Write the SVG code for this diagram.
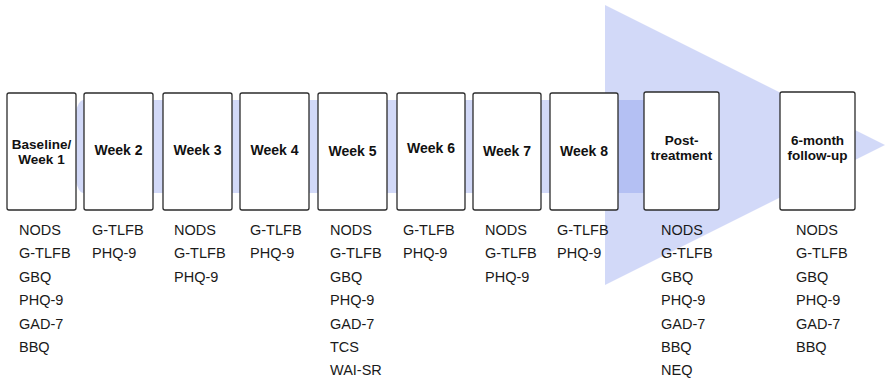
<svg xmlns="http://www.w3.org/2000/svg" width="886" height="383" viewBox="0 0 886 383">
  <style>
    .band { fill: #7d93ec; fill-opacity: 0.35; }
    .box { fill: #ffffff; stroke: #2b2b2b; stroke-width: 1.3; }
    .title { font-family: "Liberation Sans", Arial, sans-serif; font-weight: bold; font-size: 14px; fill: #111; text-anchor: middle; }
    .title2 { font-family: "Liberation Sans", Arial, sans-serif; font-weight: bold; font-size: 13.5px; fill: #111; text-anchor: middle; }
    .item { font-family: "Liberation Sans", Arial, sans-serif; font-size: 14.5px; fill: #1a1a1a; }
  </style>

  <!-- background timeline arrow: shaft plus head -->
  <g id="timeline-arrow">
    <path class="band" d="M 83,100 H 645 V 193 H 83 A 11 46.5 0 0 1 83,100 Z"/>
    <polygon class="band" points="605,5 885,145 605,285"/>
  </g>

  <g id="connectors"/>

  <g id="baseline">
    <rect class="box" x="7" y="93" width="69" height="117" rx="2"/>
    <text class="title2" x="41.5" y="149">Baseline/</text>
    <text class="title2" x="41.5" y="164">Week 1</text>
    <text class="item" x="19" y="235">NODS<tspan x="19" dy="23.4">G-TLFB</tspan><tspan x="19" dy="23.4">GBQ</tspan><tspan x="19" dy="23.4">PHQ-9</tspan><tspan x="19" dy="23.4">GAD-7</tspan><tspan x="19" dy="23.4">BBQ</tspan></text>
  </g>

  <g id="week2">
    <rect class="box" x="84" y="93" width="69" height="117" rx="2"/>
    <text class="title" x="118.5" y="155">Week 2</text>
    <text class="item" x="92" y="235">G-TLFB<tspan x="92" dy="23.4">PHQ-9</tspan></text>
  </g>

  <g id="week3">
    <rect class="box" x="163" y="93" width="69" height="117" rx="2"/>
    <text class="title" x="197.5" y="155">Week 3</text>
    <text class="item" x="174" y="235">NODS<tspan x="174" dy="23.4">G-TLFB</tspan><tspan x="174" dy="23.4">PHQ-9</tspan></text>
  </g>

  <g id="week4">
    <rect class="box" x="240" y="93" width="69" height="117" rx="2"/>
    <text class="title" x="274.5" y="155">Week 4</text>
    <text class="item" x="250" y="235">G-TLFB<tspan x="250" dy="23.4">PHQ-9</tspan></text>
  </g>

  <g id="week5">
    <rect class="box" x="318" y="93" width="69" height="117" rx="2"/>
    <text class="title" x="352.5" y="156">Week 5</text>
    <text class="item" x="330" y="235">NODS<tspan x="330" dy="23.4">G-TLFB</tspan><tspan x="330" dy="23.4">GBQ</tspan><tspan x="330" dy="23.4">PHQ-9</tspan><tspan x="330" dy="23.4">GAD-7</tspan><tspan x="330" dy="23.4">TCS</tspan><tspan x="330" dy="23.4">WAI-SR</tspan></text>
  </g>

  <g id="week6">
    <rect class="box" x="397" y="93" width="68" height="117" rx="2"/>
    <text class="title" x="431" y="153">Week 6</text>
    <text class="item" x="403" y="235">G-TLFB<tspan x="403" dy="23.4">PHQ-9</tspan></text>
  </g>

  <g id="week7">
    <rect class="box" x="473" y="93" width="68" height="117" rx="2"/>
    <text class="title" x="507" y="156">Week 7</text>
    <text class="item" x="485" y="235">NODS<tspan x="485" dy="23.4">G-TLFB</tspan><tspan x="485" dy="23.4">PHQ-9</tspan></text>
  </g>

  <g id="week8">
    <rect class="box" x="550" y="93" width="68" height="117" rx="2"/>
    <text class="title" x="584" y="156">Week 8</text>
    <text class="item" x="557" y="235">G-TLFB<tspan x="557" dy="23.4">PHQ-9</tspan></text>
  </g>

  <g id="post-treatment">
    <rect class="box" x="644" y="92" width="75" height="118" rx="2"/>
    <text class="title2" x="681.5" y="145">Post-</text>
    <text class="title2" x="681.5" y="160">treatment</text>
    <text class="item" x="661" y="235">NODS<tspan x="661" dy="23.4">G-TLFB</tspan><tspan x="661" dy="23.4">GBQ</tspan><tspan x="661" dy="23.4">PHQ-9</tspan><tspan x="661" dy="23.4">GAD-7</tspan><tspan x="661" dy="23.4">BBQ</tspan><tspan x="661" dy="23.4">NEQ</tspan></text>
  </g>

  <g id="followup-6-month">
    <rect class="box" x="780" y="92" width="75" height="118" rx="2"/>
    <text class="title2" x="817.5" y="145">6-month</text>
    <text class="title2" x="817.5" y="160">follow-up</text>
    <text class="item" x="796" y="235">NODS<tspan x="796" dy="23.4">G-TLFB</tspan><tspan x="796" dy="23.4">GBQ</tspan><tspan x="796" dy="23.4">PHQ-9</tspan><tspan x="796" dy="23.4">GAD-7</tspan><tspan x="796" dy="23.4">BBQ</tspan></text>
  </g>
</svg>
